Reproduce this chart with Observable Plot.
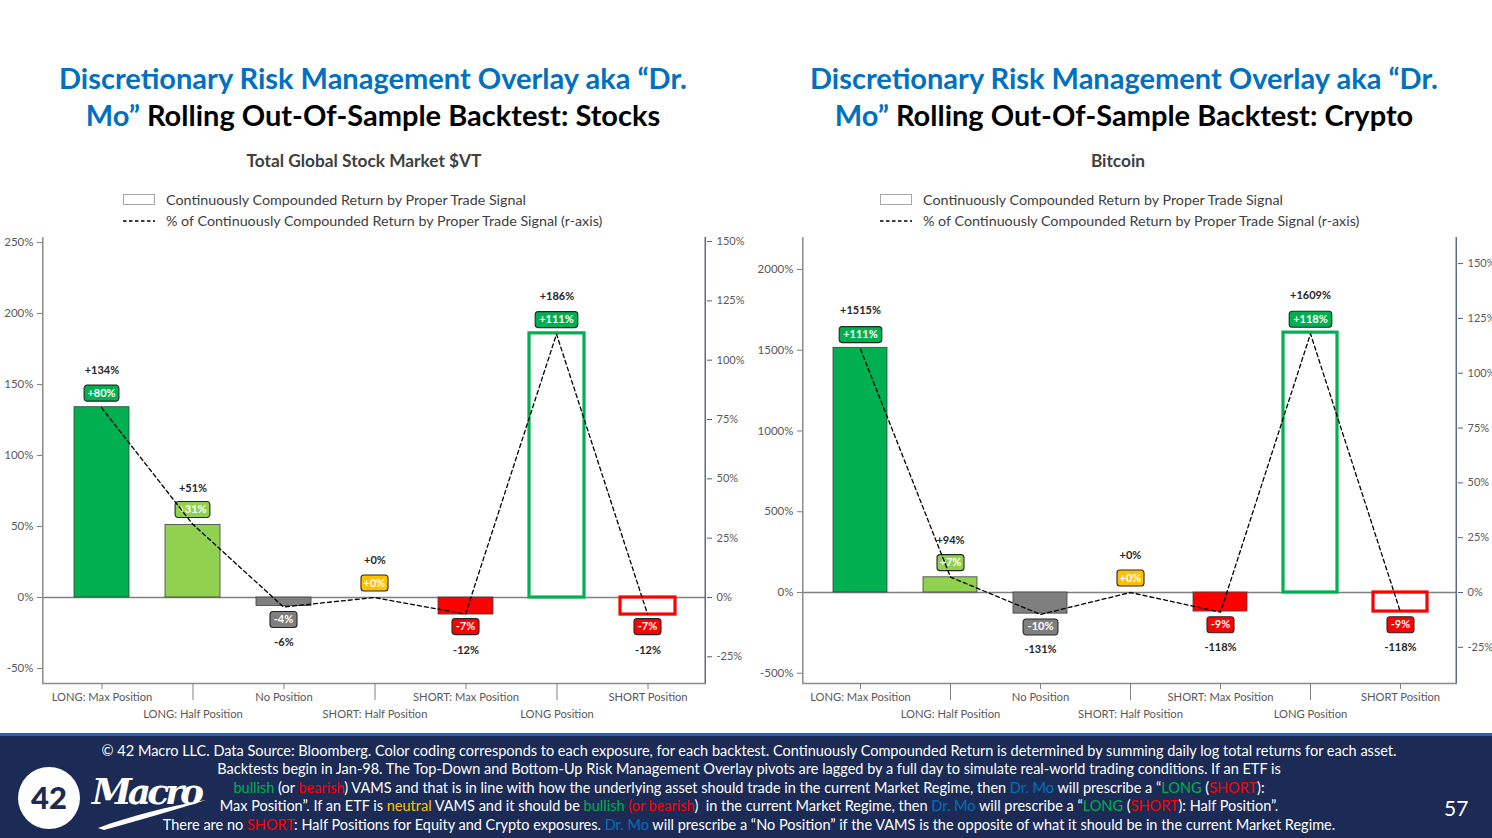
<!DOCTYPE html>
<html>
<head>
<meta charset="utf-8">
<script src="https://cdn.jsdelivr.net/npm/d3@7"></script>
<script src="https://cdn.jsdelivr.net/npm/@observablehq/plot@0.6"></script>
<style>
  html, body { margin: 0; padding: 0; }
  body { width: 1492px; height: 838px; position: relative; background: #fff; overflow: hidden; font-family: Lato, "Noto Sans", sans-serif; }
  .abs { position: absolute; }
  .title { font-weight: bold; font-size: 29px; line-height: 37px; text-align: center; color: #000; white-space: nowrap; }
  .blue { color: #0070C0; }
  .subtitle { font-weight: bold; font-size: 17.3px; color: #404040; text-align: center; white-space: nowrap; }
  .legend { font-size: 14.3px; color: #404040; white-space: nowrap; }
  .footer { left: 0; top: 733px; width: 1492px; height: 105px; background: #1B2B55; border-top: 3px solid #2160C4; box-sizing: border-box; }
  .foottext { left: 0; width: 1498px; top: 741.5px; text-align: center; color: #fff; font-size: 14.5px; line-height: 18.6px; white-space: nowrap; }
  .g { color: #00B050; } .r { color: #FF0000; } .b { color: #0070C0; } .y { color: #FFC000; }
</style>
</head>
<body>

<div class="abs title" style="left:0;top:59px;width:746px;"><span class="blue">Discretionary Risk Management Overlay aka “Dr.<br>Mo”</span> Rolling Out-Of-Sample Backtest: Stocks</div>
<div class="abs title" style="left:750px;top:59px;width:748px;"><span class="blue">Discretionary Risk Management Overlay aka “Dr.<br>Mo”</span> Rolling Out-Of-Sample Backtest: Crypto</div>

<div class="abs subtitle" style="left:0;top:150px;width:728px;">Total Global Stock Market $VT</div>
<div class="abs subtitle" style="left:750px;top:150px;width:736px;">Bitcoin</div>

<div id="legend1" class="abs legend" style="left:123px;top:189px;"></div>
<div id="legend2" class="abs legend" style="left:880px;top:189px;"></div>

<div id="chart1" class="abs" style="left:0;top:225px;width:750px;height:500px;"></div>
<div id="chart2" class="abs" style="left:750px;top:225px;width:742px;height:500px;"></div>

<div class="abs footer"></div>
<div class="abs foottext">
© 42 Macro LLC. Data Source: Bloomberg. Color coding corresponds to each exposure, for each backtest. Continuously Compounded Return is determined by summing daily log total returns for each asset.<br>
Backtests begin in Jan-98. The Top-Down and Bottom-Up Risk Management Overlay pivots are lagged by a full day to simulate real-world trading conditions. If an ETF is<br>
<span class="g">bullish</span> (or <span class="r">bearish</span>) VAMS and that is in line with how the underlying asset should trade in the current Market Regime, then <span class="b">Dr. Mo</span> will prescribe a “<span class="g">LONG</span> (<span class="r">SHORT</span>):<br>
Max Position”. If an ETF is <span class="y">neutral</span> VAMS and it should be <span class="g">bullish</span> <span class="r">(or bearish</span>)&nbsp; in the current Market Regime, then <span class="b">Dr. Mo</span> will prescribe a “<span class="g">LONG</span> (<span class="r">SHORT</span>): Half Position”.<br>
There are no <span class="r">SHORT</span>: Half Positions for Equity and Crypto exposures. <span class="b">Dr. Mo</span> will prescribe a “No Position” if the VAMS is the opposite of what it should be in the current Market Regime.
</div>

<svg class="abs" style="left:0;top:760px;" width="230" height="78">
  <circle cx="49" cy="38" r="31" fill="#fff"/>
  <text x="49" y="49" text-anchor="middle" font-family="Lato, sans-serif" font-weight="900" font-size="31" fill="#1B2B55">42</text>
  <text x="92" y="44" font-family="DejaVu Serif, serif" font-style="italic" font-weight="bold" font-size="36" fill="#fff" textLength="112">Macro</text>
  <path d="M98,68 C130,56 170,46 206,40 C175,50 140,60 104,70 Z" fill="#fff"/>
</svg>
<div class="abs" style="left:1444px;top:795px;color:#fff;font-size:21px;">57</div>

<script>
// ---------------- data ----------------
const categories = ["LONG: Max Position", "LONG: Half Position", "No Position", "SHORT: Half Position", "SHORT: Max Position", "LONG Position", "SHORT Position"];
const categoryColors = ["#00B050", "#92D050", "#7F7F7F", "#FFC000", "#FF0000", "#00B050", "#FF0000"];
const outlinedBars = [false, false, false, false, false, true, true];

const stockReturns = [134, 51, -6, 0, -12, 186, -12];
const stockShares = [80, 31, -4, 0, -7, 111, -7];
const cryptoReturns = [1515, 94, -131, 0, -118, 1609, -118];
const cryptoShares = [111, 7, -10, 0, -9, 118, -9];

const stockLeftTicks = [-50, 0, 50, 100, 150, 200, 250];
const stockRightTicks = [-25, 0, 25, 50, 75, 100, 125, 150];
const cryptoLeftTicks = [-500, 0, 500, 1000, 1500, 2000];
const cryptoRightTicks = [-25, 0, 25, 50, 75, 100, 125, 150];

const legendLabels = ["Continuously Compounded Return by Proper Trade Signal", "% of Continuously Compounded Return by Proper Trade Signal (r-axis)"];

// ---------------- helpers ----------------
function rows(returns, shares) {
  return categories.map((c, i) => ({category: c, ret: returns[i], share: shares[i], color: categoryColors[i], outlined: outlinedBars[i]}));
}
const fmt = v => (v >= 0 ? "+" : "") + v + "%";
const boxHalfWidth = label => 3.9 * label.length + 1.8;
const roundBox = {
  draw(ctx, size) {
    const hw = Math.sqrt(size / Math.PI), hh = 8, r = 3;
    ctx.moveTo(-hw + r, -hh);
    ctx.lineTo(hw - r, -hh);
    ctx.arcTo(hw, -hh, hw, -hh + r, r);
    ctx.lineTo(hw, hh - r);
    ctx.arcTo(hw, hh, hw - r, hh, r);
    ctx.lineTo(-hw + r, hh);
    ctx.arcTo(-hw, hh, -hw, hh - r, r);
    ctx.lineTo(-hw, -hh + r);
    ctx.arcTo(-hw, -hh, -hw + r, -hh, r);
    ctx.closePath();
  }
};

function legend(el) {
  el.innerHTML =
    `<div style="height:21px;display:flex;align-items:center;"><svg width="43" height="14"><rect x="0.5" y="1.5" width="31" height="10" fill="#fff" stroke="#A6A6A6"/></svg>${legendLabels[0]}</div>` +
    `<div style="height:21px;display:flex;align-items:center;"><svg width="43" height="14"><line x1="0" x2="32" y1="7" y2="7" stroke="#000" stroke-width="1.3" stroke-dasharray="3.5 2.5"/></svg>${legendLabels[1]}</div>`;
}

function drawChart(el, cfg) {
  const {W, H, mL, mR, mT, mB, inset, leftDomain, rightDomain, leftTicks, rightTicks, data} = cfg;
  const innerW = W - mL - mR;
  const oddCats = categories.filter((c, i) => i % 2 === 0);
  const evenCats = categories.filter((c, i) => i % 2 === 1);
  const common = {
    width: W, height: H, marginLeft: mL, marginRight: mR, marginTop: mT, marginBottom: mB,
    x: {domain: categories, inset, paddingInner: 0.4, paddingOuter: 0.2, axis: null},
    color: {type: "identity"},
    style: {fontFamily: "Lato, sans-serif", fontSize: "11px", color: "#595959", background: "transparent", overflow: "visible", position: "absolute", left: "0px", top: "0px"}
  };
  const A = Plot.plot({
    ...common,
    y: {domain: leftDomain, axis: null},
    marks: [
      Plot.ruleY([0], {stroke: "#808080", strokeWidth: 1.6}),
      Plot.barY(data.filter(d => !d.outlined), {x: "category", y: "ret", fill: "color", stroke: "#404040", strokeWidth: 0.8}),
      Plot.barY(data.filter(d => d.outlined), {x: "category", y: "ret", fill: "none", stroke: "color", strokeWidth: 3.2}),
      Plot.text(data.filter(d => d.ret >= 0), {x: "category", y: "ret", text: d => fmt(d.ret), dy: -37, fontWeight: "bold", fontSize: 11, fill: "#262626"}),
      Plot.text(data.filter(d => d.ret < 0), {x: "category", y: "ret", text: d => fmt(d.ret), dy: 36, fontWeight: "bold", fontSize: 11, fill: "#262626"}),
      Plot.axisY({ticks: leftTicks, tickFormat: d => d + "%", tickSize: 5, tickPadding: 4, stroke: "#808080", fill: "#595959", fontSize: 11.5, label: null}),
      Plot.rect([0], {y1: () => leftDomain[0], y2: () => leftDomain[1], fill: "#8C8C8C", insetRight: innerW - 1.5}),
      Plot.ruleY([leftDomain[0]], {stroke: "#8C8C8C", strokeWidth: 1.6}),
      Plot.axisX(oddCats, {tickSize: 6, tickPadding: 4, stroke: "#808080", fill: "#595959", fontSize: 11.2, label: null}),
      Plot.axisX(evenCats, {tickSize: 17, tickPadding: 10, stroke: "#808080", fill: "#595959", fontSize: 11.2, label: null})
    ]
  });
  const B = Plot.plot({
    ...common,
    y: {domain: rightDomain, axis: null},
    r: {type: "identity"},
    marks: [
      Plot.dot(data.filter(d => d.share >= 0), {x: "category", y: "share", dy: -14.5, symbol: roundBox, r: d => boxHalfWidth(fmt(d.share)), fill: "color", stroke: "#262626", strokeWidth: 1.1}),
      Plot.dot(data.filter(d => d.share < 0), {x: "category", y: "share", dy: 12.5, symbol: roundBox, r: d => boxHalfWidth(fmt(d.share)), fill: "color", stroke: "#262626", strokeWidth: 1.1}),
      Plot.text(data.filter(d => d.share >= 0), {x: "category", y: "share", dy: -14.5, text: d => fmt(d.share), fill: "#fff", fontWeight: "bold", fontSize: 11}),
      Plot.text(data.filter(d => d.share < 0), {x: "category", y: "share", dy: 12.5, text: d => fmt(d.share), fill: "#fff", fontWeight: "bold", fontSize: 11}),
      Plot.line(data, {x: "category", y: "share", stroke: "#000", strokeWidth: 1.3, strokeDasharray: "4 3"}),
      Plot.axisY({anchor: "right", ticks: rightTicks, tickFormat: d => d + "%", tickSize: 5, tickPadding: 5, stroke: "#4F5F78", fill: "#595959", fontSize: 11, label: null}),
      Plot.rect([0], {y1: () => rightDomain[0], y2: () => rightDomain[1], fill: "#5B6B84", insetLeft: innerW - 1.5})
    ]
  });
  el.appendChild(A);
  el.appendChild(B);
}

legend(document.getElementById("legend1"));
legend(document.getElementById("legend2"));

drawChart(document.getElementById("chart1"), {
  W: 750, H: 500, mL: 42, mR: 44, mT: 12, mB: 42, inset: 12,
  leftDomain: [-60.56, 253.5], rightDomain: [-36.24, 151.7],
  leftTicks: stockLeftTicks, rightTicks: stockRightTicks,
  data: rows(stockReturns, stockShares)
});
drawChart(document.getElementById("chart2"), {
  W: 742, H: 500, mL: 52, mR: 35, mT: 12, mB: 42, inset: 10.5,
  leftDomain: [-563.5, 2198], rightDomain: [-41.5, 161.9],
  leftTicks: cryptoLeftTicks, rightTicks: cryptoRightTicks,
  data: rows(cryptoReturns, cryptoShares)
});
</script>
</body>
</html>
